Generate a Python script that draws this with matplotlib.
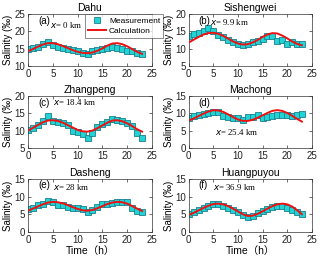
import matplotlib
matplotlib.use("Agg")
import matplotlib.pyplot as plt
import numpy as np

plt.rcParams['font.family'] = ['Liberation Sans', 'Noto Sans CJK SC', 'DejaVu Sans']

hours = list(range(24))

stations = ["Dahu", "Sishengwei", "Zhangpeng", "Machong", "Dasheng", "Huangpuyou"]
panel_tags = ["(a)", "(b)", "(c)", "(d)", "(e)", "(f)"]
distances = ["0 km", "9.9 km", "18.4 km", "25.4 km", "28 km", "36.9 km"]

meas_dahu = [15.0, 15.3, 15.6, 16.5, 16.8, 16.2, 15.5, 15.2, 14.8, 14.5, 14.2, 13.8,
             13.6, 14.3, 14.6, 15.0, 15.2, 15.6, 15.2, 14.8, 14.4, 14.2, 13.9, 13.5]
calc_dahu = [14.3, 14.9, 15.6, 16.2, 16.6, 16.6, 16.3, 15.8, 15.2, 14.6, 14.1, 13.8,
             13.7, 13.9, 14.4, 15.1, 15.9, 16.5, 16.6, 16.3, 15.7, 14.9, 14.1, 13.5]

meas_sish = [13.8, 14.3, 14.5, 15.0, 16.0, 15.0, 14.0, 13.5, 12.5, 11.8, 11.3, 11.2,
             11.5, 11.8, 12.2, 12.7, 13.6, 13.8, 12.2, 12.4, 11.5, 11.8, 11.5, 11.3]
calc_sish = [11.8, 12.6, 13.4, 14.1, 14.5, 14.6, 14.3, 13.7, 12.9, 12.1, 11.5, 11.2,
             11.3, 11.8, 12.5, 13.4, 14.1, 14.5, 14.4, 13.8, 13.0, 12.1, 11.4, 11.0]

meas_zhang = [10.2, 10.8, 11.5, 12.8, 14.3, 12.8, 12.6, 12.3, 11.5, 10.0, 9.5, 9.0,
              8.0, 9.2, 11.0, 12.0, 12.5, 13.3, 13.0, 12.7, 12.2, 11.2, 9.3, 7.8]
calc_zhang = [10.0, 10.8, 11.6, 12.4, 12.9, 13.0, 12.8, 12.3, 11.6, 10.9, 10.2, 9.8,
              9.7, 10.0, 10.7, 11.5, 12.3, 12.9, 13.0, 12.7, 12.1, 11.3, 10.4, 9.7]

meas_mach = [8.6, 9.2, 9.4, 9.8, 10.2, 10.4, 10.3, 9.2, 8.8, 8.6, 8.7, 8.2,
             8.8, 8.9, 9.4, 8.6, 9.0, 9.1, 9.6, 9.5, 9.4, 9.3, 9.6, 9.8]
calc_mach = [7.9, 8.5, 9.2, 9.9, 10.5, 10.9, 10.8, 10.4, 9.7, 8.9, 8.2, 7.8,
             7.8, 8.1, 8.7, 9.4, 10.1, 10.7, 10.9, 10.7, 10.1, 9.3, 8.4, 7.6]

meas_dash = [6.4, 6.8, 7.6, 7.8, 8.8, 8.5, 7.5, 7.6, 7.0, 6.8, 6.8, 6.4,
             5.7, 6.2, 7.0, 7.8, 8.0, 8.3, 8.6, 8.6, 8.4, 6.7, 5.9, 5.5]
calc_dash = [6.0, 6.6, 7.2, 7.8, 8.3, 8.5, 8.4, 8.1, 7.6, 7.0, 6.5, 6.1,
             6.0, 6.2, 6.7, 7.3, 7.9, 8.3, 8.5, 8.4, 8.0, 7.3, 6.6, 5.9]

meas_huang = [5.0, 5.7, 6.2, 6.8, 7.4, 7.8, 7.8, 7.4, 6.8, 6.2, 5.6, 4.8,
              4.2, 4.6, 5.4, 6.0, 6.6, 7.0, 7.3, 7.2, 6.8, 6.1, 5.5, 5.0]
calc_huang = [4.8, 5.4, 6.1, 6.8, 7.4, 7.9, 8.0, 7.8, 7.3, 6.6, 5.8, 5.0,
              4.5, 4.6, 5.1, 5.8, 6.6, 7.3, 7.8, 8.0, 7.8, 7.2, 6.2, 5.0]

measurements = [meas_dahu, meas_sish, meas_zhang, meas_mach, meas_dash, meas_huang]
calculations = [calc_dahu, calc_sish, calc_zhang, calc_mach, calc_dash, calc_huang]
ylims = [(10, 25), (5, 20), (5, 20), (0, 15), (0, 15), (0, 15)]
dist_pos = [(0.18, 0.79), (0.17, 0.85), (0.20, 0.88), (0.21, 0.31), (0.20, 0.85), (0.20, 0.85)]

fig = plt.figure(figsize=(3.2, 2.6), dpi=100)
lefts = [0.0875, 0.59]
widths = [0.3875, 0.384]
bottoms = [0.746, 0.431, 0.108]
heights = [0.2, 0.2, 0.204]

for i in range(6):
    r, c = divmod(i, 2)
    ax = fig.add_axes([lefts[c], bottoms[r], widths[c], heights[r]])
    ax.plot(hours, measurements[i], linestyle='none', marker='s', markersize=4.3,
            markerfacecolor='#22d3d3', markeredgecolor='#1a7f8f', markeredgewidth=0.6,
            label='Measurement', zorder=2)
    ax.plot(hours, calculations[i], color='#ee1111', linewidth=1.4,
            label='Calculation', zorder=3)
    ax.set_xlim(0, 25)
    ax.set_ylim(*ylims[i])
    ax.set_xticks([0, 5, 10, 15, 20, 25])
    lo, hi = ylims[i]
    ax.set_yticks(np.arange(lo, hi + 1, 5))
    ax.tick_params(direction='in', length=2, width=0.5, labelsize=7, pad=2,
                   top=True, right=True, colors='#333333', labelcolor='#222222')
    for s in ax.spines.values():
        s.set_linewidth(0.5)
        s.set_color('#333333')
    ax.set_title(stations[i], fontsize=7.5, pad=2)
    ax.set_ylabel('Salinity (‰)', fontsize=7, labelpad=1)
    if r == 2:
        ax.set_xlabel('Time（h）', fontsize=7.5, labelpad=1)
    ax.text(0.08, 0.97, panel_tags[i], transform=ax.transAxes, fontsize=7,
            ha='left', va='top')
    ax.text(dist_pos[i][0], dist_pos[i][1], r'$\it{x}$= ' + distances[i],
            transform=ax.transAxes, fontsize=6.3, ha='left', va='center',
            family='Liberation Serif')
    if i == 0:
        leg = ax.legend(loc='upper right', bbox_to_anchor=(1.09, 1.0), fontsize=6.0,
                        frameon=True, fancybox=False, edgecolor='#333333',
                        handlelength=2.1, handletextpad=0.4, borderpad=0.35,
                        labelspacing=0.3, borderaxespad=0)
        leg.get_frame().set_linewidth(0.5)
        leg.set_zorder(5)

fig.savefig('out.png', dpi=100)
